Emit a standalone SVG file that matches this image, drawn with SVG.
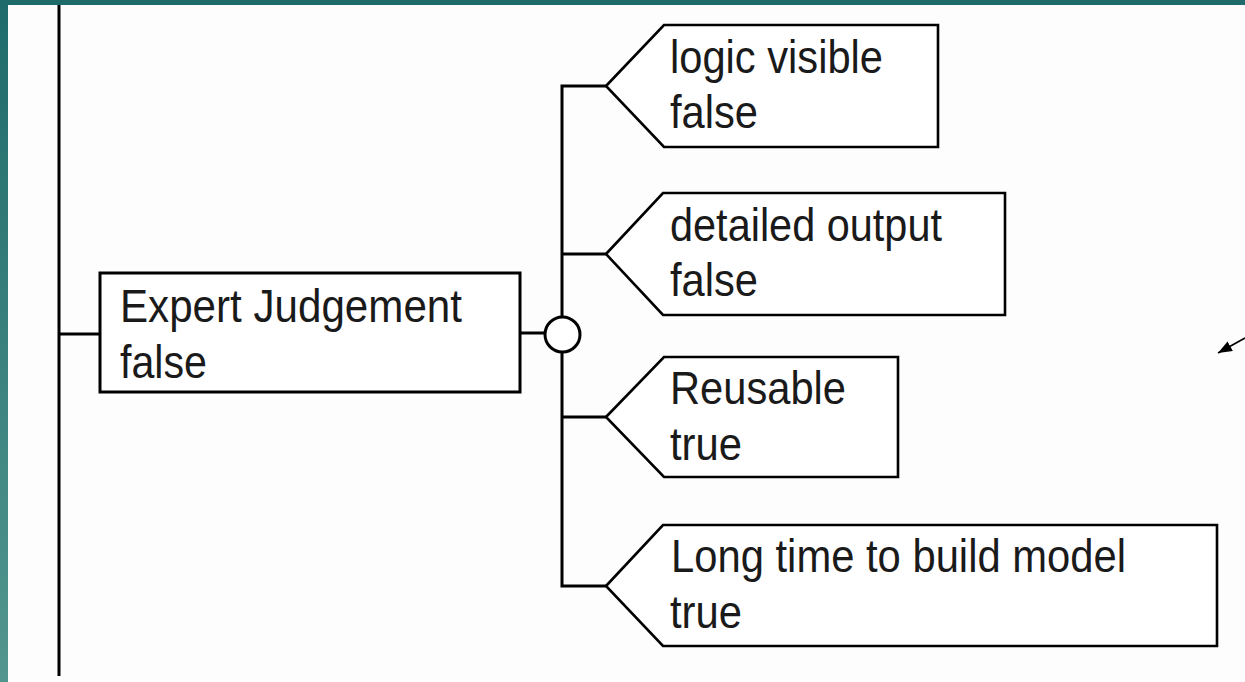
<svg xmlns="http://www.w3.org/2000/svg" width="1245" height="682" viewBox="0 0 1245 682">
  <defs>
    <linearGradient id="sideGrad" x1="0" y1="0" x2="0" y2="1">
      <stop offset="0" stop-color="#1f6b6b"/>
      <stop offset="1" stop-color="#53968f"/>
    </linearGradient>
    <marker id="arrowHead" markerWidth="14" markerHeight="11" refX="14" refY="5.5" orient="auto" markerUnits="userSpaceOnUse">
      <path d="M0,0 L14,5.5 L0,11 Z" fill="#000"/>
    </marker>
    <style>
      .box { fill: #ffffff; stroke: #000; stroke-width: 3; stroke-linejoin: miter; }
      .tag { fill: #ffffff; stroke: #000; stroke-width: 2.6; stroke-linejoin: miter; }
      .wire { fill: none; stroke: #000; stroke-width: 3; }
      .label { font-family: "Liberation Sans", Arial, sans-serif; font-size: 47px; fill: #1a1a1a; }
    </style>
  </defs>

  <rect x="0" y="0" width="1245" height="682" fill="#fdfdfd"/>
  <rect x="0" y="0" width="1245" height="5" fill="#1f6b6c"/>
  <rect x="0" y="0" width="8" height="682" fill="url(#sideGrad)"/>

  <g id="connectors">
    <line class="wire" x1="59" y1="5" x2="59" y2="676" stroke-width="3.5"/>
    <line class="wire" x1="59" y1="334" x2="100" y2="334"/>
    <line class="wire" x1="520" y1="333" x2="545" y2="333"/>
    <polyline class="wire" points="606,86 562,86 562,586 606,586"/>
    <line class="wire" x1="562" y1="254" x2="606" y2="254"/>
    <line class="wire" x1="562" y1="417" x2="606" y2="417"/>
    <line x1="1245" y1="338" x2="1218" y2="353" stroke="#000" stroke-width="1.6" marker-end="url(#arrowHead)"/>
  </g>

  <g id="junction">
    <circle cx="562.5" cy="334.5" r="17.5" fill="#ffffff" stroke="#000" stroke-width="3"/>
  </g>

  <g id="expert-judgement">
    <rect class="box" x="100" y="273" width="420" height="119"/>
    <text class="label" x="120" y="322" textLength="342" lengthAdjust="spacingAndGlyphs">Expert Judgement</text>
    <text class="label" x="120" y="378" textLength="87" lengthAdjust="spacingAndGlyphs">false</text>
  </g>

  <g id="logic-visible">
    <polygon class="tag" points="606,86 664,25 938,25 938,147 664,147"/>
    <text class="label" x="670" y="73" textLength="213" lengthAdjust="spacingAndGlyphs">logic visible</text>
    <text class="label" x="670" y="128" textLength="88" lengthAdjust="spacingAndGlyphs">false</text>
  </g>

  <g id="detailed-output">
    <polygon class="tag" points="606,254 663,193 1005,193 1005,315 663,315"/>
    <text class="label" x="670" y="241" textLength="272" lengthAdjust="spacingAndGlyphs">detailed output</text>
    <text class="label" x="670" y="296" textLength="88" lengthAdjust="spacingAndGlyphs">false</text>
  </g>

  <g id="reusable">
    <polygon class="tag" points="606,417 664,357 898,357 898,477 664,477"/>
    <text class="label" x="670" y="404" textLength="176" lengthAdjust="spacingAndGlyphs">Reusable</text>
    <text class="label" x="670" y="460" textLength="72" lengthAdjust="spacingAndGlyphs">true</text>
  </g>

  <g id="long-time">
    <polygon class="tag" points="606,586 663,525 1217,525 1217,646 663,646"/>
    <text class="label" x="671" y="572" textLength="455" lengthAdjust="spacingAndGlyphs">Long time to build model</text>
    <text class="label" x="670" y="628" textLength="72" lengthAdjust="spacingAndGlyphs">true</text>
  </g>
</svg>
